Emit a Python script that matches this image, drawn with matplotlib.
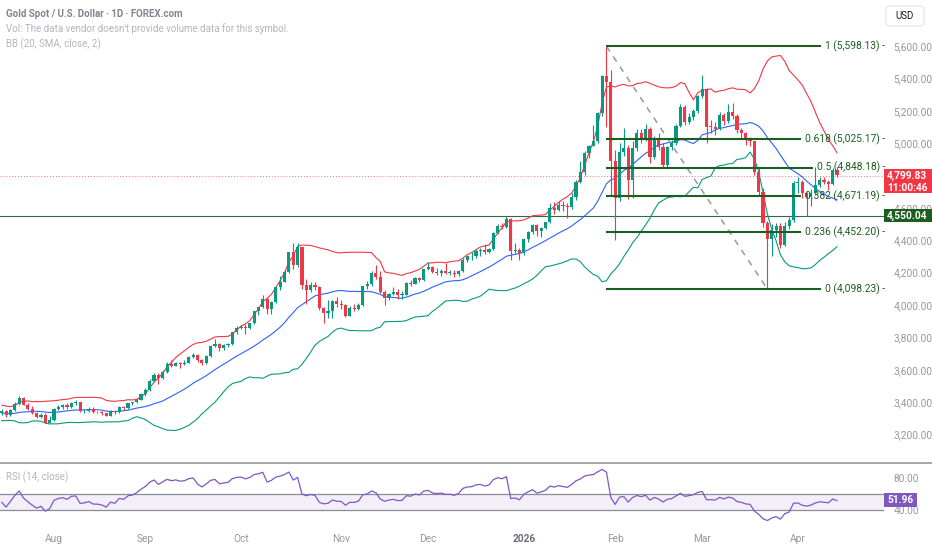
import numpy as np
import pandas as pd
import matplotlib.pyplot as plt
from matplotlib.lines import Line2D
from matplotlib.patches import Rectangle, FancyBboxPatch

plt.rcParams['font.family'] = ['Roboto', 'DejaVu Sans']

W, H = 932, 550

# ---------------------------------------------------------------
# Daily XAUUSD candles (16 Jul 2025 - 14 Apr 2026)
# ---------------------------------------------------------------
holidays = ['2025-12-25', '2026-01-01']
first_open = 3330

closes = [
    # Jul
    3345, 3318, 3350, 3390, 3428, 3385, 3358, 3332, 3305, 3318, 3272, 3288,
    # Aug
    3355, 3372, 3380, 3368, 3395, 3398, 3342, 3346, 3356, 3337, 3336, 3330,
    3314, 3346, 3338, 3372, 3366, 3392, 3398, 3416, 3448,
    # Sep
    3476, 3532, 3570, 3546, 3586, 3634, 3626, 3641, 3634, 3643, 3680, 3690,
    3660, 3644, 3684, 3745, 3762, 3737, 3750, 3760, 3830, 3858,
    # Oct
    3866, 3856, 3886, 3960, 3985, 4040, 3976, 4018, 4108, 4142, 4205, 4325,
    4250, 4356, 4126, 4095, 4126, 4112, 3982, 3952, 3962, 4025, 4003,
    # Nov
    4000, 3932, 3980, 3978, 4000, 4115, 4128, 4195, 4172, 4082, 4046, 4066,
    4078, 4060, 4064, 4136, 4130, 4165, 4155, 4220,
    # Dec
    4232, 4206, 4200, 4208, 4196, 4198, 4190, 4210, 4278, 4300, 4304, 4332,
    4340, 4330, 4346, 4442, 4486, 4480, 4532, 4332, 4342, 4320,
    # Jan
    4405, 4450, 4495, 4456, 4476, 4510, 4598, 4588, 4620, 4612, 4604, 4665,
    4760, 4822, 4938, 4985, 5010, 5185, 5412, 5378, 4890,
    # Feb
    4660, 4945, 4968, 4772, 4968, 5062, 5022, 5085, 4915, 5030, 4975, 4866,
    4975, 5000, 5105, 5222, 5130, 5160, 5198, 5290,
    # Mar
    5332, 5100, 5098, 5090, 5175, 5135, 5190, 5170, 5080, 5060, 5020, 5010,
    4822, 4700, 4505, 4410, 4462, 4490, 4372, 4490, 4525, 4755,
    # Apr
    4762, 4692, 4665, 4690, 4742, 4772, 4762, 4748, 4835, 4800,
]

highs = [
    3360, 3352, 3360, 3400, 3438, 3434, 3392, 3375, 3340, 3335, 3330, 3315,
    3364, 3385, 3390, 3392, 3400, 3410, 3402, 3360, 3370, 3368, 3345, 3348,
    3335, 3350, 3352, 3378, 3378, 3395, 3402, 3424, 3455,
    3490, 3540, 3580, 3578, 3600, 3645, 3660, 3650, 3650, 3660, 3685, 3705,
    3698, 3665, 3688, 3750, 3790, 3765, 3760, 3768, 3835, 3870,
    3875, 3880, 3890, 3965, 3990, 4060, 4045, 4025, 4115, 4180, 4218, 4330,
    4380, 4381, 4360, 4160, 4140, 4145, 4115, 3990, 4030, 4030, 4050,
    4030, 4005, 3995, 4005, 4010, 4118, 4148, 4210, 4245, 4210, 4090, 4075,
    4110, 4100, 4085, 4140, 4155, 4170, 4175, 4225,
    4265, 4240, 4230, 4225, 4260, 4215, 4215, 4218, 4290, 4305, 4330, 4345,
    4350, 4375, 4350, 4450, 4498, 4505, 4550, 4535, 4380, 4350,
    4410, 4455, 4500, 4500, 4480, 4515, 4630, 4635, 4640, 4645, 4628, 4690,
    4770, 4888, 4950, 4990, 5110, 5195, 5420, 5598, 5450,
    4960, 5000, 5095, 4990, 5010, 5090, 5090, 5120, 5100, 5045, 5060, 5000,
    4985, 5020, 5115, 5240, 5235, 5185, 5210, 5300,
    5420, 5340, 5140, 5130, 5190, 5185, 5240, 5248, 5180, 5095, 5070, 5035,
    5015, 4850, 4720, 4520, 4500, 4505, 4505, 4510, 4545, 4765,
    4790, 4775, 4700, 4715, 4850, 4790, 4790, 4775, 4845, 4852,
]

lows = [
    3320, 3310, 3312, 3345, 3385, 3380, 3350, 3325, 3300, 3302, 3268, 3268,
    3282, 3350, 3358, 3355, 3362, 3380, 3340, 3330, 3340, 3332, 3330, 3322,
    3312, 3312, 3325, 3330, 3352, 3360, 3382, 3392, 3410,
    3440, 3470, 3525, 3510, 3540, 3580, 3615, 3620, 3612, 3630, 3640, 3670,
    3650, 3628, 3638, 3680, 3740, 3718, 3722, 3740, 3755, 3820,
    3850, 3820, 3850, 3880, 3940, 3980, 3945, 3945, 4010, 4090, 4140, 4200,
    4225, 4235, 4100, 4005, 4080, 4090, 3970, 3888, 3920, 3920, 3990,
    3975, 3928, 3930, 3965, 3970, 3995, 4100, 4120, 4160, 4075, 4000, 4030,
    4060, 4040, 4040, 4060, 4120, 4128, 4140, 4150,
    4218, 4195, 4185, 4180, 4190, 4185, 4170, 4180, 4205, 4265, 4280, 4290,
    4305, 4315, 4320, 4340, 4440, 4468, 4475, 4280, 4320, 4275,
    4310, 4390, 4440, 4425, 4420, 4470, 4505, 4560, 4580, 4580, 4540, 4590,
    4650, 4755, 4800, 4910, 4980, 5000, 5170, 5100, 4680,
    4402, 4640, 4920, 4655, 4660, 4950, 5000, 5010, 4880, 4900, 4960, 4850,
    4855, 4960, 4990, 5100, 5110, 5120, 5140, 5185,
    5280, 5000, 5060, 5050, 5080, 5110, 5125, 5150, 5060, 5030, 4990, 4985,
    4800, 4680, 4480, 4098, 4300, 4420, 4355, 4365, 4470, 4515,
    4690, 4660, 4550, 4610, 4680, 4730, 4745, 4710, 4740, 4790,
]

# closes before the visible window, needed to warm up BB(20) and RSI(14)
warmup_closes = [3370, 3368, 3368, 3323, 3333, 3328, 3274, 3303, 3338, 3357,
                 3326, 3337, 3335, 3301, 3313, 3325, 3355, 3343, 3324]

fib_levels = [1, 0.618, 0.5, 0.382, 0.236, 0]
fib_prices = [5598.13, 5025.17, 4848.18, 4671.19, 4452.20, 4098.23]
hline_price = 4550.04
last_price = 4799.83
bar_countdown = '11:00:46'
rsi_last = 51.96
rsi_band = (40, 60)
price_ticks = list(range(3200, 5601, 200))
rsi_ticks = [40, 80]

# ---------------------------------------------------------------
dates = pd.bdate_range('2025-07-16', '2026-04-14')
dates = dates[~dates.isin(pd.to_datetime(holidays))]
closes = np.array(closes, float)
highs = np.array(highs, float)
lows = np.array(lows, float)
opens = np.r_[first_open, closes[:-1]]
n = len(closes)
xs = np.arange(n)

full = pd.Series(np.r_[warmup_closes, closes])
basis = full.rolling(20).mean()
dev = full.rolling(20).std(ddof=0)
bb_mid = basis.values[-n:]
bb_up = (basis + 2 * dev).values[-n:]
bb_lo = (basis - 2 * dev).values[-n:]

delta = full.diff()
up = delta.clip(lower=0).ewm(alpha=1 / 14, adjust=False).mean()
down = (-delta.clip(upper=0)).ewm(alpha=1 / 14, adjust=False).mean()
rsi = (100 - 100 / (1 + up / down)).values[-n:]

GREEN = '#089981'
RED = '#f23645'
FIB = '#1b5e20'
GREY_TXT = '#9598a1'


def fx(px):
    return px / W


def fy(py):
    return 1 - py / H


fig = plt.figure(figsize=(W / 100, H / 100), dpi=100)
ax = fig.add_axes([0, fy(462), fx(884), 462 / H])
ax_r = fig.add_axes([0, fy(527), fx(884), 64 / H])

for a in (ax, ax_r):
    a.set_xlim(-0.41, 202.8)
    for s in a.spines.values():
        s.set_visible(False)
ax.set_ylim(3030, 5884)
ax_r.set_ylim(18.75, 98.75)

# candles
col = np.where(closes >= opens, GREEN, RED)
ax.vlines(xs, lows, highs, colors=col, lw=0.8, zorder=3)
body = np.maximum(np.abs(closes - opens), 5)
ax.bar(xs, body, bottom=np.minimum(opens, closes), width=0.72,
       color=col, lw=0, zorder=4)

# bollinger bands
ax.plot(xs, bb_up, color=RED, lw=0.8, zorder=2)
ax.plot(xs, bb_mid, color='#2962ff', lw=0.8, zorder=2)
ax.plot(xs, bb_lo, color=GREEN, lw=0.8, zorder=2)

# horizontal lines
ax.axhline(hline_price, color='#2e6b40', lw=0.8, zorder=1)
ax.axhline(last_price, color=RED, lw=0.7, ls=(0, (1, 2)), alpha=0.7, zorder=1)

# fibonacci retracement
i_hi = int(np.argmax(highs))
i_lo = i_hi + int(np.argmin(lows[i_hi:]))
ax.plot([i_hi, i_lo], [highs[i_hi], lows[i_lo]], color='#9598a1', lw=1.1,
        ls=(0, (4, 4)), zorder=5)


def px_to_x(px):
    return ax.transData.inverted().transform((px, 0))[0]


fib_texts = []
for lvl, p in zip(fib_levels, fib_prices):
    t = ax.text(px_to_x(885), p, f'{lvl:g} ({p:,.2f}) -', ha='right',
                va='center', fontsize=7.4, color=FIB, clip_on=False, zorder=6)
    fib_texts.append(t)

fig.canvas.draw()
for t, p in zip(fib_texts, fib_prices):
    left = t.get_window_extent().x0
    ax.plot([i_hi, px_to_x(left - 4)], [p, p], color=FIB, lw=1.5, zorder=5,
            solid_capstyle='butt')

# price scale (4,800 sits fully under the last-price badge)
ax.yaxis.tick_right()
ax.set_yticks(price_ticks)
ax.set_yticklabels(['' if v == 4800 else f'{v:,.2f}' for v in price_ticks])
ax.tick_params(axis='y', length=0, pad=7, labelsize=7.3, labelcolor=GREY_TXT)
ax.set_xticks([])

# rsi panel
ax_r.fill_between([-1, 204], *rsi_band, color='#7e57c2', alpha=0.09, lw=0)
for b in rsi_band:
    ax_r.axhline(b, color='#8a8d96', lw=0.9)
ax_r.plot(xs, rsi, color='#7e57c2', lw=0.9)
ax_r.yaxis.tick_right()
ax_r.set_yticks(rsi_ticks)
ax_r.set_yticklabels([f'{v:.2f}' for v in rsi_ticks])
ax_r.tick_params(axis='y', length=0, pad=7, labelsize=7.3, labelcolor=GREY_TXT)

month_idx = [i for i in range(1, n) if dates[i].month != dates[i - 1].month]
month_lab = [str(dates[i].year) if dates[i].month == 1 else dates[i].strftime('%b')
             for i in month_idx]
ax_r.set_xticks(month_idx)
ax_r.set_xticklabels(month_lab)
ax_r.tick_params(axis='x', length=0, pad=5, labelsize=7.3, labelcolor=GREY_TXT)
for lab in ax_r.get_xticklabels():
    if lab.get_text().isdigit():
        lab.set_fontweight('bold')
        lab.set_color('#6a6d78')

# panel separator
fig.add_artist(Line2D([0, 1], [fy(462.5)] * 2, color='#a3a6ae', lw=1.4))

# legend texts
fig.text(fx(6), fy(14), 'Gold Spot / U.S. Dollar · 1D · FOREX.com', va='center',
         fontsize=7, color='#82858f', fontweight='semibold')
fig.text(fx(6), fy(29), "Vol: The data vendor doesn't provide volume data for this symbol.",
         va='center', fontsize=7, color='#b2b5be')
fig.text(fx(6), fy(44), 'BB (20, SMA, close, 2)', va='center', fontsize=7,
         color='#b2b5be')
fig.text(fx(6), fy(477), 'RSI (14, close)', va='center', fontsize=7,
         color='#b2b5be')

# scale badges


def y_px(a, v):
    return H - a.transData.transform((0, v))[1]


yp = y_px(ax, last_price)
fig.add_artist(Rectangle((fx(884), fy(yp + 17.5)), fx(932) - fx(884), 24 / H,
                         transform=fig.transFigure, color=RED, lw=0))
fig.text(fx(907), fy(yp), f'{last_price:,.2f}', ha='center', va='center',
         fontsize=7.3, color='white', fontweight='semibold')
fig.text(fx(907), fy(yp + 12), bar_countdown, ha='center', va='center',
         fontsize=7.3, color='white', fontweight='semibold')

yp = y_px(ax, hline_price)
fig.add_artist(Rectangle((fx(884), fy(yp + 6)), fx(932) - fx(884), 12.5 / H,
                         transform=fig.transFigure, color='#1b5e20', lw=0))
fig.text(fx(907), fy(yp - 0.5), f'{hline_price:,.2f}', ha='center', va='center',
         fontsize=7.3, color='white', fontweight='semibold')

yp = y_px(ax_r, rsi_last)
fig.add_artist(Rectangle((fx(884), fy(yp + 7)), fx(917) - fx(884), 14 / H,
                         transform=fig.transFigure, color='#7e57c2', lw=0))
fig.text(fx(900.5), fy(yp), f'{rsi_last:.2f}', ha='center', va='center',
         fontsize=7.3, color='white', fontweight='semibold')

fig.add_artist(FancyBboxPatch((fx(886), fy(26)), fx(924) - fx(886), 20 / H,
                              boxstyle='round,pad=0,rounding_size=0.004',
                              transform=fig.transFigure, fc='white',
                              ec='#e0e3eb', lw=0.8))
fig.text(fx(905), fy(16), 'USD', ha='center', va='center', fontsize=7,
         color='#131722')

fig.savefig('out.png', dpi=100)
